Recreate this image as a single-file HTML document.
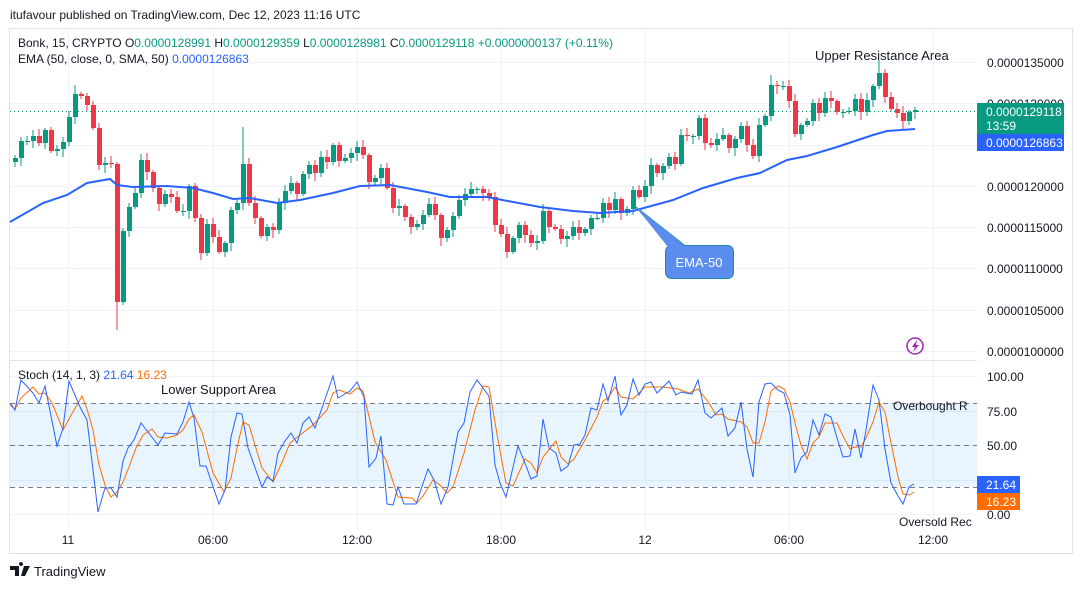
<!DOCTYPE html>
<html><head><meta charset="utf-8">
<style>
html,body{margin:0;padding:0;background:#fff;width:1080px;height:589px;overflow:hidden;}
svg{display:block;font-family:"Liberation Sans",sans-serif;}
</style></head>
<body>
<svg id="s" width="1080" height="589" viewBox="0 0 1080 589" xmlns="http://www.w3.org/2000/svg">
<rect width="1080" height="589" fill="#fff"/>
<text x="10" y="19" font-size="12" fill="#131722">itufavour published on TradingView.com, Dec 12, 2023 11:16 UTC</text>
<rect x="9.5" y="28.5" width="1063" height="525" fill="none" stroke="#e0e3eb"/>
<g id="grid" stroke="#f0f3fa" stroke-width="1"></g>
<line x1="10" y1="360.5" x2="1072" y2="360.5" stroke="#e0e3eb"/>
<rect x="10" y="403" width="967" height="84" fill="#2196f3" fill-opacity="0.1"/>
<g stroke="#787b86" stroke-dasharray="5,4" stroke-width="1">
<line x1="10" y1="403.5" x2="977" y2="403.5"/>
<line x1="10" y1="445.5" x2="977" y2="445.5"/>
<line x1="10" y1="487.5" x2="977" y2="487.5"/>
</g>
<line x1="10" y1="111.5" x2="977" y2="111.5" stroke="#089981" stroke-dasharray="1,3"/>
<g id="candles"></g>
<polyline id="ema" fill="none" stroke="#2962ff" stroke-width="2"/>
<polyline id="stD" fill="none" stroke="#ff6d00" stroke-width="1"/>
<polyline id="stK" fill="none" stroke="#2962ff" stroke-width="1"/>
<!-- EMA-50 callout -->
<path d="M636,207 L672,248 L688,248 Z" fill="#5b8def" stroke="#1e88a8" stroke-width="1"/>
<rect x="665.5" y="245.5" width="68" height="33" rx="6" fill="#5b8def" stroke="#1e88a8"/>
<path d="M636,207 L668,247 L686,247 Z" fill="#5b8def"/>
<text x="699" y="267" font-size="13" fill="#fff" text-anchor="middle">EMA-50</text>
<text x="815" y="60" font-size="13" fill="#131722">Upper Resistance Area</text>
<text x="161" y="394" font-size="13" fill="#131722">Lower Support Area</text>
<text x="893" y="410" font-size="12" fill="#131722">Overbought R</text>
<text x="899" y="526" font-size="12" fill="#131722">Oversold Rec</text>
<!-- legend -->
<text x="18" y="47" font-size="12" fill="#131722">Bonk, 15, CRYPTO  O<tspan fill="#089981">0.0000128991</tspan>  H<tspan fill="#089981">0.0000129359</tspan>  L<tspan fill="#089981">0.0000128981</tspan>  C<tspan fill="#089981">0.0000129118</tspan>  <tspan fill="#089981">+0.0000000137 (+0.11%)</tspan></text>
<text x="18" y="63" font-size="12" fill="#131722">EMA (50, close, 0, SMA, 50)  <tspan fill="#2962ff">0.0000126863</tspan></text>
<text x="18" y="379" font-size="12" fill="#131722">Stoch (14, 1, 3)  <tspan fill="#2962ff">21.64</tspan>  <tspan fill="#ff6d00">16.23</tspan></text>
<!-- price axis -->
<rect x="977" y="29" width="95" height="524" fill="#fff"/>
<g font-size="12" fill="#131722">
<text x="987" y="67">0.0000135000</text>
<text x="987" y="108">0.0000130000</text>
<text x="987" y="191">0.0000120000</text>
<text x="987" y="232">0.0000115000</text>
<text x="987" y="273">0.0000110000</text>
<text x="987" y="315">0.0000105000</text>
<text x="987" y="356">0.0000100000</text>
<text x="987" y="381">100.00</text>
<text x="987" y="416">75.00</text>
<text x="987" y="450">50.00</text>
<text x="987" y="519">0.00</text>
</g>
<rect x="977" y="103" width="87" height="31" fill="#089981"/>
<text x="986" y="116" font-size="12" fill="#fff">0.0000129118</text>
<text x="986" y="130" font-size="12" fill="#fff">13:59</text>
<rect x="977" y="134" width="87" height="17" fill="#2962ff"/>
<text x="986" y="147" font-size="12" fill="#fff">0.0000126863</text>
<rect x="977" y="476" width="43" height="17" fill="#2962ff"/>
<text x="986" y="489" font-size="12" fill="#fff">21.64</text>
<rect x="977" y="493" width="43" height="17" fill="#ff6d00"/>
<text x="986" y="506" font-size="12" fill="#fff">16.23</text>
<!-- lightning -->
<circle cx="915" cy="346" r="8" fill="none" stroke="#9c27b0" stroke-width="1.5"/>
<path d="M917,340 L912,347 L915,347 L913,352 L919,345 L916,345 Z" fill="#9c27b0"/>
<!-- time axis -->
<g font-size="12" fill="#131722" text-anchor="middle">
<text x="68" y="544">11</text>
<text x="213" y="544">06:00</text>
<text x="357" y="544">12:00</text>
<text x="501" y="544">18:00</text>
<text x="645" y="544">12</text>
<text x="789" y="544">06:00</text>
<text x="933" y="544">12:00</text>
</g>
<!-- logo -->
<path d="M10,566 h9 v10 h-4 v-6 h-5 z M21,566 a2,2 0 1 1 0.01,0 z M24,566 h6 l-5,10 h-4 z" fill="#131722"/>
<text x="34" y="576" font-size="13" fill="#131722">TradingView</text>
</svg>
<script>
(function(){
var NS="http://www.w3.org/2000/svg";
function el(t,a,p){var e=document.createElementNS(NS,t);for(var k in a)e.setAttribute(k,a[k]);p.appendChild(e);return e;}
var g=document.getElementById('grid');
[68,213,357,501,645,789,933].forEach(function(x){el('line',{x1:x+.5,y1:29,x2:x+.5,y2:530},g);});
[62,103,145,186,227,268,310,351,376,411,445,480,514].forEach(function(y){el('line',{x1:10,y1:y+.5,x2:977,y2:y+.5},g);});
var C=[162,158,141,141,136,143,130,151,149,142,117,94,96,105,128,165,163,164,302,231,207,193,160,172,188,204,194,197,211,211,186,218,253,224,237,252,243,210,203,164,203,218,236,227,230,203,191,183,194,174,165,173,157,162,145,161,158,153,147,155,182,178,168,188,208,206,217,227,224,215,204,215,238,230,216,200,194,189,189,193,197,225,234,252,238,225,235,243,241,211,227,229,239,236,227,233,229,218,218,203,210,199,213,209,190,197,186,165,173,166,157,164,135,136,136,118,143,145,139,135,148,139,126,145,156,125,116,85,86,86,101,134,125,121,103,113,98,101,112,112,111,99,112,100,86,73,97,109,113,121,112,110];
var ov={18:{l:330},39:{h:127},145:{h:60},11:{h:85},127:{h:75},0:{}};
var cg=document.getElementById('candles');
var prev=160;
for(var i=0;i<C.length;i++){
 var x=9+6*i,o=prev,c=C[i];prev=c;
 var top=Math.min(o,c),bot=Math.max(o,c);
 var h=top-(2+(i*7)%6),l=bot+(2+(i*3)%7);
 if(ov[i]&&ov[i].l)l=ov[i].l; if(ov[i]&&ov[i].h)h=ov[i].h;
 var col=c<=o?'#089981':'#f23645';
 if(x<10)continue;
 el('line',{x1:x,y1:h,x2:x,y2:l,stroke:col,'stroke-width':1},cg);
 el('rect',{x:x-2,y:top,width:5,height:Math.max(1,bot-top),fill:col},cg);
}
document.getElementById('ema').setAttribute('points',"10,222 43,203 67,195 87,183 110,179 117,185 133,187 167,186 193,188 213,193 233,199 250,198 277,203 300,200 333,193 360,186 390,185 427,192 450,197 487,197 513,202 540,207 573,211 600,213 633,211 673,200 703,188 737,178 760,173 787,160 807,156 837,147 873,135 887,131 915,129");
document.getElementById('stK').setAttribute('points',"10,403 15,410 21,380 33,393 39,403 45,386 57,446 63,428 69,381 80,407 87,420 98,512 105,488 111,488 117,497 123,461 128,448 134,440 141,423 158,445 165,433 177,434 183,422 189,402 194,418 200,466 206,466 219,504 225,490 231,437 237,413 242,414 248,448 262,487 267,477 273,481 278,453 285,441 291,433 297,443 303,423 309,417 315,428 322,408 333,376 338,398 350,391 357,382 364,397 369,467 376,458 381,436 387,504 393,505 398,487 404,504 416,504 428,469 434,480 441,504 448,487 458,432 464,423 470,392 477,380 489,396 495,465 500,483 506,497 518,446 525,463 531,479 537,476 543,419 549,448 556,453 561,471 568,466 574,445 580,444 585,435 591,408 597,410 603,384 608,401 615,376 621,415 627,405 633,379 639,395 645,384 651,382 657,393 669,381 676,395 681,392 692,394 698,380 705,413 711,418 722,408 728,436 735,428 741,402 747,449 753,477 759,402 765,384 771,383 778,390 784,393 790,415 795,473 801,458 807,452 813,420 819,435 825,414 831,417 837,438 843,457 850,456 855,429 861,458 866,430 873,385 879,400 885,449 891,483 898,496 903,504 909,487 914,484");
document.getElementById('stD').setAttribute('points',"10,405 15,409 21,398 33,387 39,394 45,393 52,403 63,430 70,417 82,396 87,409 93,430 99,465 106,488 111,497 117,492 123,482 129,467 136,448 143,435 152,429 158,437 167,438 177,435 183,430 189,419 194,415 202,432 213,473 224,492 231,478 237,448 243,422 249,425 255,445 262,468 273,482 283,460 290,443 300,435 313,425 327,410 333,393 339,390 350,394 357,388 363,391 375,442 386,460 398,497 412,498 417,503 423,496 433,480 440,485 447,493 453,487 464,453 475,410 483,386 489,387 498,440 506,483 513,486 525,459 531,463 537,473 543,457 556,441 561,457 568,464 574,459 585,440 597,417 603,401 608,398 615,387 621,397 633,399 645,387 663,387 678,389 689,393 698,389 709,403 716,415 722,414 728,419 741,422 747,427 753,443 759,443 765,422 771,391 778,386 784,389 790,402 796,427 801,445 807,459 813,443 819,437 825,423 837,423 843,436 850,449 855,447 861,447 866,438 873,422 879,402 885,412 891,443 898,477 903,494 909,495 914,492");
})();
</script>
</body></html>
